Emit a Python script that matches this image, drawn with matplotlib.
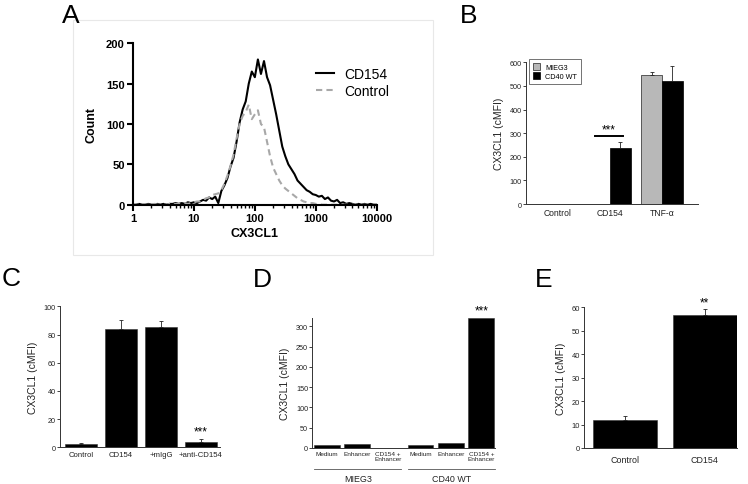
import matplotlib
matplotlib.use('Agg')
import matplotlib.pyplot as plt
import numpy as np
from matplotlib.patches import Rectangle

plt.rcParams['font.family'] = ['Liberation Sans', 'DejaVu Sans']

# ---------------------------------------------------------------------------
# A - histogram (counts per log10 channel, step 0.05 from 10^0 to 10^4)
log_channel = np.round(np.arange(0, 4.001, 0.05), 2)
count_cd154 = [0, 0, 1, 0, 0, 1, 0, 0, 1, 0, 1, 0, 1, 1, 2, 1, 2, 1, 3, 2,
               3, 2, 4, 6, 5, 9, 7, 10, 2, 17, 24, 33, 47, 58, 78, 102, 118, 128, 150, 165,
               158, 180, 162, 178, 158, 148, 130, 112, 92, 72, 60, 50, 44, 38, 30, 26, 22, 18, 16, 13,
               12, 10, 11, 7, 9, 5, 4, 6, 2, 3, 1, 2, 1, 0, 1, 0, 1, 0, 1, 0, 0]
count_control = [0, 0, 0, 1, 0, 0, 0, 1, 0, 0, 0, 0, 1, 0, 1, 1, 1, 2, 1, 2,
                 3, 4, 4, 6, 8, 9, 12, 13, 14, 18, 26, 36, 48, 62, 82, 100, 110, 115, 124, 106,
                 112, 117, 100, 96, 78, 60, 46, 38, 30, 24, 20, 17, 14, 11, 8, 6, 4, 3, 2, 2,
                 1, 1, 0, 0, 0, 0, 0, 0, 0, 0, 0, 0, 0, 0, 0, 0, 0, 0, 0, 0, 0]

# B - grouped bars
b_groups = ['Control', 'CD154', 'TNF-\u03b1']
b_mieg3 = [0, 0, 545]
b_mieg3_err = [0, 0, 14]
b_cd40 = [0, 237, 522]
b_cd40_err = [0, 27, 61]

# C
c_labels = ['Control', 'CD154', '+mIgG', '+anti-CD154']
c_values = [2.0, 83.9, 85.1, 3.8]
c_err = [1.0, 6.4, 4.5, 1.9]

# D
d_labels = ['Medium', 'Enhancer', 'CD154 +\nEnhancer', 'Medium', 'Enhancer', 'CD154 +\nEnhancer']
d_values = [7.4, 10.7, 0, 7.4, 12.3, 320]
d_groups = ['MIEG3', 'CD40 WT']

# E
e_labels = ['Control', 'CD154']
e_values = [11.9, 56.9]
e_err = [1.7, 2.2]

W, H = 748, 485
fig = plt.figure(figsize=(W / 100, H / 100), dpi=100)


def px_axes(l, t, r, b):
    return fig.add_axes([l / W, 1 - b / H, (r - l) / W, (b - t) / H])


def bar_style(ax, ylabel):
    for s in ['top', 'right']:
        ax.spines[s].set_visible(False)
    ax.spines['left'].set_linewidth(0.7)
    ax.spines['bottom'].set_linewidth(0.7)
    ax.spines['left'].set_color('#333333')
    ax.spines['bottom'].set_color('#333333')
    ax.tick_params(axis='y', length=2, width=0.6, labelsize=5.2, colors='#222222', pad=1)
    ax.tick_params(axis='x', length=0, labelsize=5.6, colors='#222222', pad=3)
    ax.set_ylabel(ylabel, fontsize=7.5, color='#222222')


# ---------------------------------------------------------------------------
# Panel A
fig.patches.append(Rectangle((73 / W, 1 - 256 / H), 360 / W, 235 / H, transform=fig.transFigure,
                             fill=False, edgecolor='#e8e8e8', lw=0.8))
axA = px_axes(133, 44.3, 376.7, 205.7)
x_channel = 10 ** log_channel
axA.plot(x_channel, count_cd154, '-', color='black', lw=1.5, label='CD154')
axA.plot(x_channel, count_control, '--', color='#a8a8a8', lw=1.5, dashes=(3, 2), label='Control')
axA.set_xscale('log')
axA.set_xlim(1, 10000)
axA.set_ylim(0, 200)
axA.set_yticks([0, 50, 100, 150, 200])
axA.set_xticks([1, 10, 100, 1000, 10000])
axA.set_xticklabels(['1', '10', '100', '1000', '10000'])
for s in ['top', 'right']:
    axA.spines[s].set_visible(False)
for s in ['left', 'bottom']:
    axA.spines[s].set_linewidth(1.5)
axA.tick_params(which='major', length=4, width=1.5, labelsize=8, pad=2)
axA.tick_params(which='minor', length=2.5, width=1.0)
for lab in axA.get_xticklabels() + axA.get_yticklabels():
    lab.set_fontweight('bold')
axA.set_ylabel('Count', fontsize=9, fontweight='bold', labelpad=6)
axA.set_xlabel('CX3CL1', fontsize=9, fontweight='bold', labelpad=3)
axA.legend(loc='upper left', bbox_to_anchor=(0.7, 0.93), frameon=False, fontsize=10,
           handlelength=1.3, handletextpad=0.7, labelspacing=0.2)

# Panel B
axB = px_axes(526, 63.3, 698, 205)
xb = np.arange(len(b_groups))
bw = 0.4
axB.bar(xb - bw / 2, b_mieg3, bw, color='#b8b8b8', edgecolor='#222222', lw=0.5, label='MIEG3')
axB.bar(xb + bw / 2, b_cd40, bw, color='black', edgecolor='black', lw=0.5, label='CD40 WT')
for xi, v, e in zip(xb - bw / 2, b_mieg3, b_mieg3_err):
    if v > 0:
        axB.errorbar(xi, v, yerr=[[0], [e]], fmt='none', ecolor='#222222', elinewidth=0.6, capsize=1.5, capthick=0.6)
for xi, v, e in zip(xb + bw / 2, b_cd40, b_cd40_err):
    if v > 0:
        axB.errorbar(xi, v, yerr=[[0], [e]], fmt='none', ecolor='#222222', elinewidth=0.6, capsize=1.5, capthick=0.6)
axB.plot([0.71, 1.25], [288, 288], color='black', lw=1.4)
axB.text(0.98, 292, '***', ha='center', va='bottom', fontsize=8.5)
axB.set_xlim(-0.615, 2.69)
axB.set_ylim(0, 600)
axB.set_yticks(np.arange(0, 601, 100))
axB.set_xticks(xb)
axB.set_xticklabels(b_groups)
bar_style(axB, 'CX3CL1 (cMFI)')
axB.tick_params(axis='x', labelsize=6.2)
leg = axB.legend(loc='upper left', bbox_to_anchor=(0.02, 1.02), fontsize=5.2, frameon=True, fancybox=False,
                 handlelength=1.0, handleheight=1.0, handletextpad=0.7, labelspacing=0.2, borderpad=0.5,
                 borderaxespad=0)
leg.get_frame().set_edgecolor('#333333')
leg.get_frame().set_linewidth(0.6)

# Panel C
axC = px_axes(60, 307.3, 220, 448.3)
xc = np.arange(len(c_labels))
axC.bar(xc, c_values, 0.8, color='black', edgecolor='#333333', lw=0.4)
axC.errorbar(xc, c_values, yerr=[np.zeros(len(c_err)), c_err], fmt='none', ecolor='#222222',
             elinewidth=0.6, capsize=1.5, capthick=0.6)
axC.text(xc[3], c_values[3] + c_err[3] + 1.5, '***', ha='center', va='bottom', fontsize=8.5)
axC.set_xlim(-0.526, 3.48)
axC.set_ylim(0, 100)
axC.set_yticks(np.arange(0, 101, 20))
axC.set_xticks(xc)
axC.set_xticklabels(c_labels)
bar_style(axC, 'CX3CL1 (cMFI)')

# Panel D
axD = px_axes(312.3, 319.2, 495, 449)
xd = np.arange(len(d_labels)) + np.array([0, 0, 0, 1, 1, 1]) * 0.08
axD.bar(xd, d_values, 0.85, color='black', edgecolor='#333333', lw=0.4)
axD.text(xd[5], d_values[5] + 5, '***', ha='center', va='bottom', fontsize=8.5, clip_on=False)
axD.set_xlim(-0.48, 5.53)
axD.set_ylim(0, 320)
axD.set_yticks(np.arange(0, 301, 50))
axD.set_xticks(xd)
axD.set_xticklabels(d_labels)
bar_style(axD, 'CX3CL1 (cMFI)')
axD.tick_params(axis='x', labelsize=4.6, pad=2)
for lab in axD.get_xticklabels():
    lab.set_linespacing(0.95)
trD = axD.get_xaxis_transform()
for gi, name in enumerate(d_groups):
    x0, x1 = xd[3 * gi] - 0.42, xd[3 * gi + 2] + 0.45
    axD.plot([x0, x1], [-0.162, -0.162], color='#555555', lw=0.6, transform=trD, clip_on=False)
    axD.text((x0 + x1) / 2, -0.235, name, ha='center', va='center', fontsize=6.4, color='#222222',
             transform=trD)

# Panel E
axE = px_axes(584.3, 308.3, 737.3, 449)
xe = np.arange(len(e_labels))
axE.bar(xe, e_values, 0.81, color='black', edgecolor='#333333', lw=0.4)
axE.errorbar(xe, e_values, yerr=[np.zeros(len(e_err)), e_err], fmt='none', ecolor='#222222',
             elinewidth=0.6, capsize=1.5, capthick=0.6)
axE.text(xe[1], e_values[1] + e_err[1] + 0.6, '**', ha='center', va='bottom', fontsize=8.5, clip_on=False)
axE.set_xlim(-0.516, 1.41)
axE.set_ylim(0, 60)
axE.set_yticks(np.arange(0, 61, 10))
axE.set_xticks(xe)
axE.set_xticklabels(e_labels)
bar_style(axE, 'CX3CL1 (cMFI)')
axE.tick_params(axis='x', labelsize=6.4, pad=5)
axE.tick_params(axis='y', labelsize=5.4)

# Panel letters
for letter, (px, py) in zip('ABCDE', [(62, 23), (460, 23), (2, 286), (253, 287), (535, 287)]):
    fig.text(px / W, 1 - py / H, letter, fontsize=19, ha='left', va='baseline')

fig.savefig('out.png', dpi=100)
